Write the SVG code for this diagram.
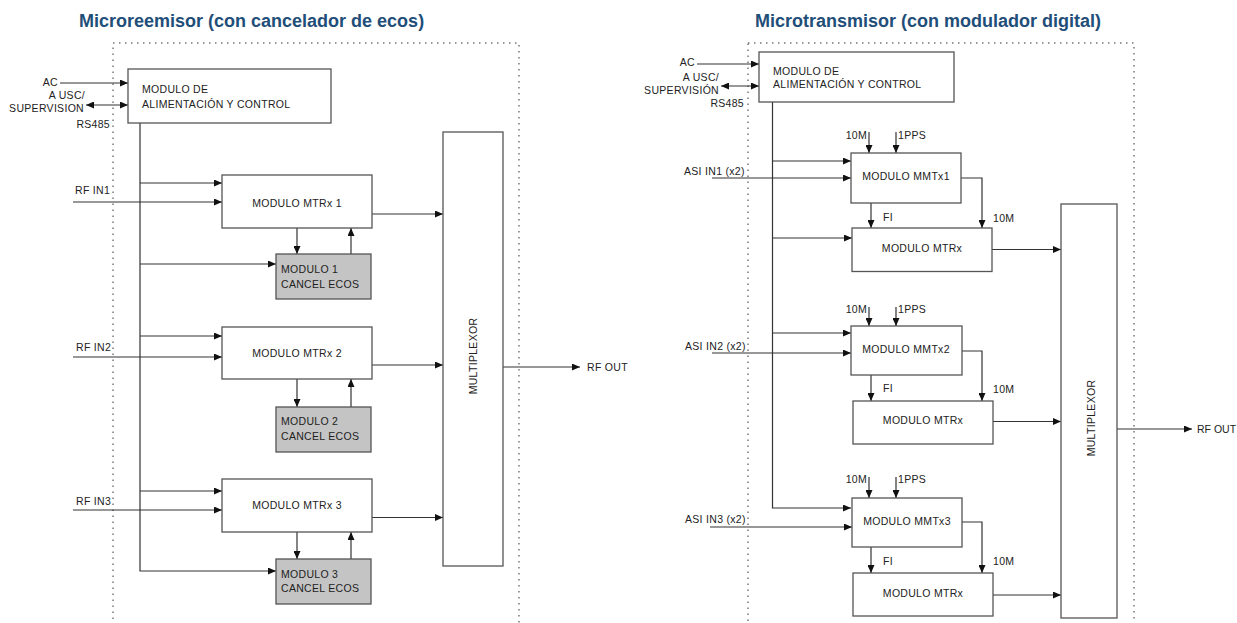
<svg xmlns="http://www.w3.org/2000/svg" width="1237" height="623" viewBox="0 0 1237 623">
<defs>
<marker id="arr" markerUnits="userSpaceOnUse" markerWidth="9" markerHeight="7" refX="8" refY="3.5" orient="auto-start-reverse" viewBox="0 0 9 7">
<path d="M0,0 L8,3.5 L0,7 z" fill="#111"/>
</marker>
<style>
.title{font-family:"Liberation Sans",Arial,sans-serif;font-weight:bold;font-size:18px;fill:#1f4e79}
.t{font-family:"Liberation Sans",Arial,sans-serif;font-size:10.5px;letter-spacing:0.3px;fill:#222}
.c{text-anchor:middle}
.e{text-anchor:end}
.box{fill:#fff;stroke:#555;stroke-width:1.3}
.grey{fill:#c4c4c4;stroke:#555;stroke-width:1.3}
.dot{fill:none;stroke:#777;stroke-width:1.5;stroke-dasharray:1.5 4.5}
.ln{fill:none;stroke:#333;stroke-width:1.2}
.a{marker-end:url(#arr)}
.aa{marker-end:url(#arr);marker-start:url(#arr)}
</style>
</defs>
<rect width="1237" height="623" fill="#fff"/>

<!-- LEFT PANEL -->
<text class="title" x="79" y="27">Microreemisor (con cancelador de ecos)</text>
<rect class="dot" x="113" y="43" width="406" height="620"/>

<g id="connectors-left">
<line class="ln a" x1="60" y1="83" x2="128" y2="83"/>
<line class="ln aa" x1="86" y1="105" x2="128" y2="105"/>
<path class="ln a" d="M140,123 V571 H276"/>
<line class="ln a" x1="140" y1="183" x2="222" y2="183"/>
<line class="ln a" x1="73" y1="202" x2="222" y2="202"/>
<line class="ln a" x1="140" y1="264" x2="276" y2="264"/>
<line class="ln a" x1="297" y1="228" x2="297" y2="254"/>
<line class="ln a" x1="351" y1="254" x2="351" y2="228"/>
<line class="ln a" x1="372" y1="214" x2="443" y2="214"/>
<line class="ln a" x1="140" y1="336" x2="222" y2="336"/>
<line class="ln a" x1="73" y1="357" x2="222" y2="357"/>
<line class="ln a" x1="297" y1="379" x2="297" y2="407"/>
<line class="ln a" x1="351" y1="407" x2="351" y2="379"/>
<line class="ln a" x1="372" y1="365" x2="443" y2="365"/>
<line class="ln a" x1="140" y1="491" x2="222" y2="491"/>
<line class="ln a" x1="73" y1="510" x2="222" y2="510"/>
<line class="ln a" x1="297" y1="532" x2="297" y2="559"/>
<line class="ln a" x1="351" y1="559" x2="351" y2="532"/>
<line class="ln a" x1="372" y1="517.5" x2="443" y2="517.5"/>
<line class="ln a" x1="503" y1="367" x2="580" y2="367"/>
</g>
<g id="labels-left">
<text class="t e" x="58" y="86">AC</text>
<text class="t e" x="85" y="99">A USC/</text>
<text class="t e" x="84" y="112">SUPERVISION</text>
<text class="t e" x="110" y="128">RS485</text>
<text class="t" x="75" y="194">RF IN1</text>
<text class="t" x="76" y="351">RF IN2</text>
<text class="t" x="76" y="505">RF IN3</text>
<text class="t" x="587" y="371">RF OUT</text>
</g>
<g id="L-power"><rect class="box" x="128" y="69" width="203" height="54"/><text class="t" x="142" y="93">MODULO DE</text><text class="t" x="142" y="108">ALIMENTACIÓN Y CONTROL</text></g>
<g id="L-mtrx1"><rect class="box" x="222" y="175" width="150" height="53"/><text class="t c" x="297" y="207">MODULO MTRx 1</text></g>
<g id="L-cancel1"><rect class="grey" x="276" y="254" width="95" height="45"/><text class="t" x="281" y="273">MODULO 1</text><text class="t" x="281" y="288">CANCEL ECOS</text></g>
<g id="L-mtrx2"><rect class="box" x="222" y="327" width="150" height="52"/><text class="t c" x="297" y="357">MODULO MTRx 2</text></g>
<g id="L-cancel2"><rect class="grey" x="276" y="407" width="95" height="45"/><text class="t" x="281" y="425">MODULO 2</text><text class="t" x="281" y="440">CANCEL ECOS</text></g>
<g id="L-mtrx3"><rect class="box" x="222" y="479" width="150" height="53"/><text class="t c" x="297" y="509">MODULO MTRx 3</text></g>
<g id="L-cancel3"><rect class="grey" x="276" y="559" width="95" height="45"/><text class="t" x="281" y="578">MODULO 3</text><text class="t" x="281" y="592">CANCEL ECOS</text></g>
<g id="L-mux"><rect class="box" x="443" y="132" width="60" height="434"/><text class="t c" transform="translate(477,356) rotate(-90)" x="0" y="0">MULTIPLEXOR</text></g>

<!-- RIGHT PANEL -->
<text class="title" x="755" y="27">Microtransmisor (con modulador digital)</text>
<rect class="dot" x="748" y="43" width="386" height="620"/>

<g id="connectors-right">
<line class="ln a" x1="697" y1="64" x2="759" y2="64"/>
<line class="ln aa" x1="721" y1="86" x2="759" y2="86"/>
<path class="ln a" d="M772.5,102 V508 H851"/>
<line class="ln a" x1="869" y1="132" x2="869" y2="153"/>
<line class="ln a" x1="896" y1="132" x2="896" y2="153"/>
<line class="ln a" x1="772" y1="161" x2="851" y2="161"/>
<line class="ln a" x1="712" y1="178" x2="851" y2="178"/>
<path class="ln a" d="M961,178 H982 V228"/>
<line class="ln a" x1="871" y1="203" x2="871" y2="228"/>
<line class="ln a" x1="772" y1="238" x2="852" y2="238"/>
<line class="ln a" x1="992" y1="249.5" x2="1061" y2="249.5"/>
<line class="ln a" x1="869" y1="307" x2="869" y2="326"/>
<line class="ln a" x1="896" y1="307" x2="896" y2="326"/>
<line class="ln a" x1="772" y1="333" x2="851" y2="333"/>
<line class="ln a" x1="712" y1="353" x2="851" y2="353"/>
<path class="ln a" d="M962,351 H982 V401"/>
<line class="ln a" x1="871" y1="375" x2="871" y2="401"/>
<line class="ln a" x1="993" y1="421.5" x2="1061" y2="421.5"/>
<line class="ln a" x1="869" y1="477" x2="869" y2="498"/>
<line class="ln a" x1="896" y1="477" x2="896" y2="498"/>
<line class="ln a" x1="710" y1="527" x2="852" y2="527"/>
<path class="ln a" d="M962,522 H982 V573"/>
<line class="ln a" x1="871" y1="547" x2="871" y2="573"/>
<line class="ln a" x1="993" y1="595" x2="1061" y2="595"/>
<line class="ln a" x1="1117" y1="429" x2="1192" y2="429"/>
</g>
<g id="labels-right">
<text class="t e" x="695" y="66">AC</text>
<text class="t e" x="719" y="81">A USC/</text>
<text class="t e" x="719" y="94">SUPERVISIÓN</text>
<text class="t e" x="744" y="107">RS485</text>
<text class="t e" x="867" y="139">10M</text>
<text class="t" x="898" y="139">1PPS</text>
<text class="t" x="684" y="175">ASI IN1 (x2)</text>
<text class="t" x="883" y="221">FI</text>
<text class="t" x="993" y="222">10M</text>
<text class="t e" x="867" y="313">10M</text>
<text class="t" x="898" y="313">1PPS</text>
<text class="t" x="685" y="350">ASI IN2 (x2)</text>
<text class="t" x="883" y="392">FI</text>
<text class="t" x="993" y="393">10M</text>
<text class="t e" x="867" y="483">10M</text>
<text class="t" x="898" y="483">1PPS</text>
<text class="t" x="685" y="523">ASI IN3 (x2)</text>
<text class="t" x="883" y="565">FI</text>
<text class="t" x="993" y="565">10M</text>
<text class="t" x="1197" y="433" style="letter-spacing:0">RF OUT</text>
</g>
<g id="R-power"><rect class="box" x="759" y="52" width="195" height="50"/><text class="t" x="773" y="75">MODULO DE</text><text class="t" x="773" y="88">ALIMENTACIÓN Y CONTROL</text></g>
<g id="R-mmtx1"><rect class="box" x="851" y="153" width="110" height="50"/><text class="t c" x="906" y="180">MODULO MMTx1</text></g>
<g id="R-mtrx1"><rect class="box" x="852" y="228" width="140" height="43.5"/><text class="t c" x="922" y="252">MODULO MTRx</text></g>
<g id="R-mmtx2"><rect class="box" x="851" y="326" width="111" height="49"/><text class="t c" x="906" y="353">MODULO MMTx2</text></g>
<g id="R-mtrx2"><rect class="box" x="853" y="401" width="140" height="43"/><text class="t c" x="923" y="424">MODULO MTRx</text></g>
<g id="R-mmtx3"><rect class="box" x="852" y="498" width="110" height="49"/><text class="t c" x="907" y="525">MODULO MMTx3</text></g>
<g id="R-mtrx3"><rect class="box" x="853" y="573" width="140" height="43"/><text class="t c" x="923" y="597">MODULO MTRx</text></g>
<g id="R-mux"><rect class="box" x="1061" y="204" width="56" height="414"/><text class="t c" transform="translate(1095,418) rotate(-90)" x="0" y="0">MULTIPLEXOR</text></g>
</svg>
